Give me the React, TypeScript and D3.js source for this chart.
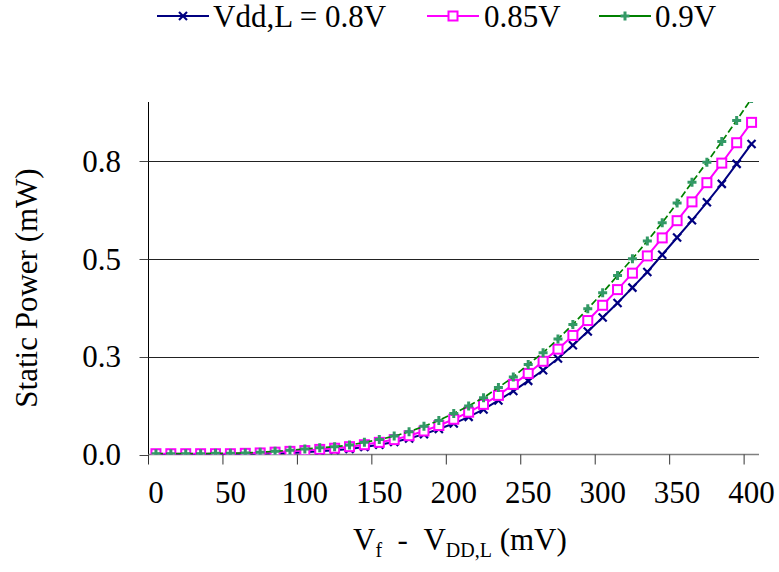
import React from "react";
import * as d3 from "d3";

// Supply-offset sweep (mV) — one category per 10 mV step
const offsetsMv = [
  0, 10, 20, 30, 40, 50, 60, 70, 80, 90, 100, 110, 120, 130, 140, 150, 160, 170, 180, 190, 200,
  210, 220, 230, 240, 250, 260, 270, 280, 290, 300, 310, 320, 330, 340, 350, 360, 370, 380, 390, 400,
];
const xTickLabels = ["0", "50", "100", "150", "200", "250", "300", "350", "400"];
const yTickValues = [0, 0.25, 0.5, 0.75];

// Static power (mW) for each low supply voltage
const power080 = [
  0.001, 0.001, 0.001, 0.001, 0.001, 0.001, 0.001, 0.002, 0.003, 0.004, 0.006, 0.008, 0.011,
  0.014, 0.019, 0.025, 0.032, 0.041, 0.052, 0.065, 0.079, 0.096, 0.115, 0.138, 0.162, 0.188,
  0.215, 0.245, 0.279, 0.314, 0.350, 0.387, 0.426, 0.466, 0.510, 0.554, 0.598, 0.644, 0.691,
  0.742, 0.793,
];
const power085 = [
  0.002, 0.002, 0.002, 0.002, 0.002, 0.002, 0.003, 0.004, 0.006, 0.008, 0.010, 0.013, 0.016,
  0.020, 0.025, 0.031, 0.038, 0.048, 0.060, 0.074, 0.090, 0.108, 0.128, 0.151, 0.179, 0.207,
  0.238, 0.269, 0.304, 0.342, 0.381, 0.421, 0.463, 0.507, 0.553, 0.597, 0.645, 0.694, 0.744,
  0.796, 0.848,
];
const power090 = [
  0.002, 0.002, 0.002, 0.002, 0.003, 0.003, 0.004, 0.006, 0.008, 0.011, 0.014, 0.017, 0.020,
  0.024, 0.031, 0.038, 0.047, 0.058, 0.072, 0.087, 0.105, 0.124, 0.145, 0.171, 0.198, 0.230,
  0.260, 0.295, 0.332, 0.372, 0.413, 0.457, 0.500, 0.545, 0.592, 0.642, 0.695, 0.746, 0.799,
  0.853, 0.909,
];

const seriesNames = ["Vdd,L = 0.8V", "0.85V", "0.9V"];

type MarkerKind = "cross" | "square" | "plus";
interface Series {
  name: string;
  values: number[];
  color: string;
  markerColor: string;
  marker: MarkerKind;
  width: number;
  dash?: string;
}

const series: Series[] = [
  { name: seriesNames[0], values: power080, color: "#000080", markerColor: "#000080", marker: "cross", width: 2 },
  { name: seriesNames[1], values: power085, color: "#FF00FF", markerColor: "#FF00FF", marker: "square", width: 2 },
  { name: seriesNames[2], values: power090, color: "#008000", markerColor: "#339966", marker: "plus", width: 1.7, dash: "7 3" },
];

const W = 779;
const H = 572;
const plot = { left: 148.5, right: 759, top: 102, bottom: 454.5 };
const FONT = "Liberation Serif";
const FS = 31;

function Marker({ kind, x, y, color }: { kind: MarkerKind; x: number; y: number; color: string }) {
  if (kind === "cross") {
    const s = 4;
    return (
      <g stroke={color} strokeWidth={2.2}>
        <line x1={x - s} y1={y - s} x2={x + s} y2={y + s} />
        <line x1={x - s} y1={y + s} x2={x + s} y2={y - s} />
      </g>
    );
  }
  if (kind === "square") {
    const s = 4.5;
    return <rect x={x - s} y={y - s} width={2 * s} height={2 * s} fill="#fff" stroke={color} strokeWidth={2} />;
  }
  const s = 4.5;
  return (
    <g stroke={color} strokeWidth={3}>
      <line x1={x - s} y1={y} x2={x + s} y2={y} />
      <line x1={x} y1={y - s} x2={x} y2={y + s} />
    </g>
  );
}

export default function App() {
  const x = d3
    .scaleLinear()
    .domain([-0.5, offsetsMv.length - 0.5])
    .range([plot.left, plot.right]);
  const y = d3.scaleLinear().domain([0, 0.9]).range([plot.bottom, plot.top]);

  const line = d3
    .line<number>()
    .x((_, i) => x(i))
    .y((d) => y(d));

  // Category index of each labelled tick (every 50 mV)
  const labelIdx = xTickLabels.map((t) => offsetsMv.indexOf(+t));

  const legendItems = [
    { s: series[0], lx: 157, tx: 213 },
    { s: series[1], lx: 427, tx: 484 },
    { s: series[2], lx: 599, tx: 655 },
  ];
  const legendY = 16;
  const textStyle = { fontFamily: `'${FONT}'` };

  return (
    <svg width={W} height={H} style={{ position: "absolute", left: 0, top: 0, background: "#fff" }}>
      <defs>
        <clipPath id="plotClip">
          <rect x={plot.left} y={plot.top} width={plot.right - plot.left} height={plot.bottom - plot.top} />
        </clipPath>
      </defs>

      {/* horizontal gridlines */}
      {yTickValues
        .filter((v) => v > 0)
        .map((v) => (
          <line
            key={v}
            x1={plot.left}
            x2={plot.right}
            y1={Math.round(y(v)) + 0.5}
            y2={Math.round(y(v)) + 0.5}
            stroke="#222"
            strokeWidth={1}
          />
        ))}

      {/* y axis */}
      <line x1={plot.left} x2={plot.left} y1={plot.top} y2={plot.bottom} stroke="#000" strokeWidth={1} />
      {yTickValues.map((v) => (
        <g key={v}>
          <line
            x1={plot.left - 9}
            x2={plot.left}
            y1={Math.round(y(v)) + 0.5}
            y2={Math.round(y(v)) + 0.5}
            stroke="#444"
          />
          <text
            x={121}
            y={y(v)}
            dy="0.35em"
            textAnchor="end"
            fontSize={FS}
            fill="#000"
            fontFamily={FONT}
            style={textStyle}
          >
            {d3.format(".1f")(v)}
          </text>
        </g>
      ))}

      {/* x axis */}
      <line x1={plot.left} x2={plot.right} y1={plot.bottom} y2={plot.bottom} stroke="#808080" strokeWidth={1.3} />
      {labelIdx.map((i, k) => (
        <g key={k}>
          <line x1={x(i - 0.5)} x2={x(i - 0.5)} y1={plot.bottom} y2={plot.bottom + 10} stroke="#333" />
          <text
            x={x(i)}
            y={503}
            textAnchor="middle"
            fontSize={FS}
            fill="#000"
            fontFamily={FONT}
            style={textStyle}
          >
            {xTickLabels[k]}
          </text>
        </g>
      ))}

      {/* series */}
      <g clipPath="url(#plotClip)">
        {series.map((s) => (
          <g key={s.name}>
            <path
              d={line(s.values) ?? ""}
              fill="none"
              stroke={s.color}
              strokeWidth={s.width}
              strokeDasharray={s.dash}
            />
            {s.values.map((v, i) => (
              <Marker key={i} kind={s.marker} x={x(i)} y={y(v)} color={s.markerColor} />
            ))}
          </g>
        ))}
      </g>

      {/* legend */}
      {legendItems.map(({ s, lx, tx }) => (
        <g key={s.name}>
          <line x1={lx} x2={lx + 52} y1={legendY} y2={legendY} stroke={s.color} strokeWidth={2} />
          <Marker kind={s.marker} x={lx + 26} y={legendY} color={s.markerColor} />
          <text
            x={tx}
            y={legendY}
            dy="0.35em"
            fontSize={FS}
            fill="#000"
            fontFamily={FONT}
            style={textStyle}
          >
            {s.name}
          </text>
        </g>
      ))}

      {/* axis titles */}
      <text
        transform={`translate(37, ${288}) rotate(-90)`}
        textAnchor="middle"
        fontSize={FS}
        fill="#000"
        fontFamily={FONT}
        style={textStyle}
      >
        Static Power (mW)
      </text>
      <text
        x={353}
        y={550}
        fontSize={FS}
        fill="#000"
        fontFamily={FONT}
        style={{ ...textStyle, whiteSpace: "pre" }}
      >
        V
        <tspan fontSize={20} dy={7}>f</tspan>
        <tspan dy={-7}>{"\u00a0\u00a0-\u00a0\u00a0V"}</tspan>
        <tspan fontSize={20} dy={7}>DD,L</tspan>
        <tspan dy={-7}>{" (mV)"}</tspan>
      </text>
    </svg>
  );
}
